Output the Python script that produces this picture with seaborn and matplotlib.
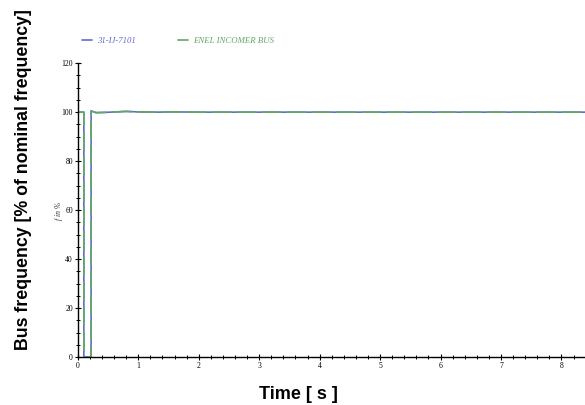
import matplotlib
matplotlib.use("Agg")
import matplotlib.pyplot as plt
import seaborn as sns
import pandas as pd
from matplotlib.ticker import MultipleLocator
from matplotlib.lines import Line2D

time_s = [0.0, 0.1, 0.1, 0.22, 0.22, 0.3, 0.45, 0.8, 1.0, 1.3, 1.6, 2.0, 3.0, 4.0, 5.0, 6.0, 7.0, 8.0, 8.5]
bus_31ij7101 = [100.0, 100.0, 0.0, 0.0, 100.5, 99.8, 99.9, 100.3, 100.1, 100.0, 100.1, 100.0, 100.0, 100.0, 100.0, 100.0, 100.0, 100.0, 100.0]
enel_incomer = [100.0, 100.0, 0.0, 0.0, 100.5, 99.8, 99.9, 100.3, 100.1, 100.0, 100.1, 100.0, 100.0, 100.0, 100.0, 100.0, 100.0, 100.0, 100.0]
series_names = ["31-IJ-7101", "ENEL INCOMER BUS"]
colors = ["#6666d6", "#5fa866"]

sns.set_style("ticks")
plt.rcParams["text.color"] = "black"
plt.rcParams["xtick.color"] = "black"
plt.rcParams["ytick.color"] = "black"
fig = plt.figure(figsize=(5.85, 4.05), dpi=100)
ax = fig.add_axes([0.133, 0.1185, 0.867, 0.7255])

df1 = pd.DataFrame({"t": time_s, "f": bus_31ij7101})
df2 = pd.DataFrame({"t": time_s, "f": enel_incomer})
sns.lineplot(data=df1, x="t", y="f", ax=ax, color=colors[0], lw=1.2, estimator=None, sort=False)
sns.lineplot(data=df2, x="t", y="f", ax=ax, color=colors[1], lw=1.2, estimator=None, sort=False)
ax.lines[1].set_dashes([12, 3])

ax.set_xlim(0, 8.39)
ax.set_ylim(0, 120)
ax.xaxis.set_major_locator(MultipleLocator(1))
ax.xaxis.set_minor_locator(MultipleLocator(0.2))
ax.yaxis.set_major_locator(MultipleLocator(20))
ax.yaxis.set_minor_locator(MultipleLocator(5))
ax.tick_params(which="major", direction="inout", length=4, width=0.8, labelsize=5.5, pad=1.5)
ax.tick_params(which="minor", direction="inout", length=2.5, width=0.7)
for lab in ax.get_xticklabels() + ax.get_yticklabels():
    lab.set_fontfamily("Liberation Serif")
sns.despine(ax=ax)
for s in ["left", "bottom"]:
    ax.spines[s].set_linewidth(1.0)
    ax.spines[s].set_color("black")

ax.set_xlabel("")
ax.set_ylabel("")
fig.text(0.511, 0.027, "Time [ s ]", fontsize=13, fontweight="bold", family="Liberation Sans",
         ha="center", va="center", color="black")
fig.text(0.040, 0.556, "Bus frequency [% of nominal frequency]", rotation=90, fontsize=12.8,
         fontweight="bold", family="Liberation Sans", ha="center", va="center", color="black")
fig.text(0.101, 0.48, "f in %", rotation=90, fontsize=5.5, style="italic",
         family="Liberation Serif", ha="center", va="center", color="#333333")

handles = [Line2D([0], [0], color=colors[0], lw=1.2), Line2D([0], [0], color=colors[1], lw=1.2)]
leg = fig.legend(handles, series_names, loc="upper left", bbox_to_anchor=(0.140, 0.908), ncol=2,
                 frameon=False, handlelength=1.15, handletextpad=0.57, columnspacing=4.8,
                 borderpad=0, borderaxespad=0,
                 prop={"family": "Liberation Serif", "style": "italic", "size": 6.3})
for txt, c in zip(leg.get_texts(), colors):
    txt.set_color(c)

fig.savefig("out.png", dpi=100)
